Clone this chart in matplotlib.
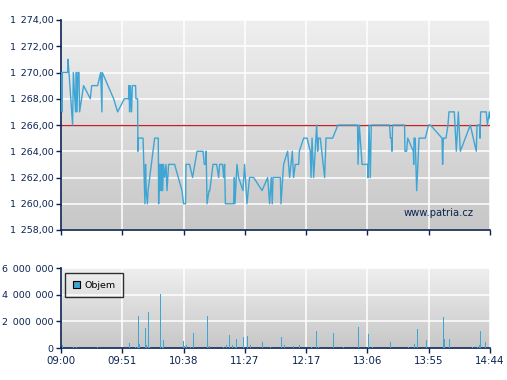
import numpy as np
import matplotlib
matplotlib.use("Agg")
import matplotlib.pyplot as plt
from matplotlib.colors import LinearSegmentedColormap
from matplotlib.ticker import FuncFormatter

# minutes after 09:00 and trade price
price_t = [0.0, 0.9, 1.0, 1.1, 5.3, 5.6, 6.4, 9.3, 9.9, 11.7, 12.3, 12.8, 13.6, 14.4, 14.9,
           18.1, 23.5, 24.6, 29.4, 31.8, 32.8, 33.1, 42.2, 45.4, 50.8, 54.2, 54.5, 55.0,
           55.6, 56.6, 57.2, 59.8, 60.1, 61.4, 61.7, 62.0, 65.8, 67.3, 67.8, 68.3, 69.3,
           69.8, 75.1, 78.0, 78.3, 79.0, 79.4, 80.0, 80.5, 81.0, 81.5, 82.2, 83.1, 84.2,
           85.0, 86.3, 91.1, 97.0, 98.3, 99.9, 100.2, 103.1, 105.5, 109.1, 113.9, 114.9,
           116.0, 116.4, 117.1, 118.7, 119.3, 121.9, 124.8, 126.4, 127.2, 129.6, 130.4,
           131.2, 131.8, 138.4, 139.0, 139.5, 141.1, 142.4, 145.9, 147.2, 149.1, 151.2,
           154.5, 161.2, 165.7, 167.3, 168.6, 169.4, 170.0, 175.9, 176.4, 178.5, 181.7,
           183.3, 185.5, 186.5, 187.9, 190.6, 191.1, 194.6, 197.3, 199.9, 200.5, 201.3,
           202.6, 205.0, 205.8, 206.5, 207.9, 211.4, 212.5, 217.8, 222.1, 237.8, 238.2,
           239.2, 241.4, 245.9, 246.2, 247.0, 248.0, 248.8, 263.5, 264.1, 264.9, 265.4,
           265.9, 275.5, 275.8, 277.1, 278.0, 282.5, 282.8, 283.1, 284.0, 285.2, 287.1,
           292.1, 294.8, 296.2, 305.5, 306.0, 306.6, 308.7, 310.3, 311.1, 315.4, 317.0,
           318.6, 320.2, 328.2, 333.0, 333.6, 335.7, 336.0, 336.5, 341.0, 341.9, 343.5,
           344.0]
price = [1270, 1270, 1267, 1270, 1270, 1271, 1270, 1266, 1270, 1267, 1270, 1267, 1270, 1270, 1267,
         1269, 1268, 1269, 1269, 1270, 1267, 1270, 1268, 1267, 1268, 1268, 1269, 1267,
         1269, 1267, 1269, 1269, 1268, 1268, 1264, 1265, 1265, 1260, 1263, 1261, 1260,
         1261, 1265, 1265, 1260, 1263, 1261, 1263, 1261, 1263, 1261, 1263, 1262, 1263,
         1261, 1263, 1263, 1261, 1260, 1260, 1263, 1263, 1262, 1264, 1264, 1263,
         1263, 1264, 1260, 1261, 1261, 1263, 1263, 1262, 1263, 1263, 1262,
         1263, 1260, 1260, 1262, 1260, 1263, 1262, 1261, 1263, 1260, 1262,
         1262, 1261, 1262, 1260, 1262, 1260, 1262, 1262, 1260, 1263, 1264,
         1262, 1264, 1262, 1263, 1263, 1264, 1265, 1265, 1264, 1262, 1265,
         1262, 1266, 1264, 1265, 1265, 1262, 1265, 1265, 1266, 1266, 1263,
         1266, 1263, 1263, 1262, 1266, 1262, 1266, 1266, 1265, 1265, 1264,
         1266, 1266, 1264, 1264, 1265, 1264, 1263, 1265, 1265, 1261, 1265,
         1265, 1266, 1266, 1265, 1263, 1265, 1265, 1266, 1267, 1267, 1264,
         1267, 1264, 1266, 1264, 1266, 1266, 1265, 1267, 1267, 1266, 1267,
         1266.5]
avg_price = 1266

vol_t = [1.0, 9.3, 11.7, 28.8, 54.5, 59.3, 60.6, 61.4, 62.2, 67.1, 67.9, 69.5, 70.3, 79.1,
         80.7, 81.5, 97.5, 98.6, 99.9, 103.1, 105.5, 116.8, 118.4, 129.6, 132.0, 134.4,
         136.8, 139.2, 140.0, 145.6, 148.9, 151.3, 161.2, 167.6, 176.4, 178.5, 185.7,
         190.8, 200.2, 204.2, 206.1, 217.8, 225.8, 237.9, 245.9, 249.1, 263.5, 278.0,
         282.8, 285.2, 292.4, 306.0, 306.8, 310.8, 329.3, 333.3, 334.9, 335.7, 340.0]
volume = [250e3, 100e3, 100e3, 100e3, 400e3, 100e3, 100e3, 2.43e6, 325e3, 1.53e6, 250e3,
          2.73e6, 100e3, 4.08e6, 100e3, 625e3, 550e3, 150e3, 250e3, 100e3, 1.15e6, 2.43e6,
          150e3, 100e3, 250e3, 1.0e6, 250e3, 100e3, 650e3, 850e3, 925e3, 250e3, 475e3,
          100e3, 825e3, 250e3, 175e3, 250e3, 100e3, 1.3e6, 100e3, 1.15e6, 100e3, 1.6e6,
          1.08e6, 100e3, 475e3, 100e3, 325e3, 1.45e6, 625e3, 2.35e6, 700e3, 700e3, 100e3,
          100e3, 250e3, 1.3e6, 475e3]

time_labels = ["09:00", "09:51", "10:38", "11:27", "12:17", "13:06", "13:55", "14:44"]
session_len = 344

navy = "#0b2352"
blue = "#3fa5d4"
SEP = "\u2002"  # wide thousands separator
plt.rcParams["font.family"] = "DejaVu Sans"
plt.rcParams["font.size"] = 6.8

bg = LinearSegmentedColormap.from_list("bg", ["#efefef", "#c7c7c7"])


def style_axes(ax):
    ax.imshow(np.linspace(0, 1, 256).reshape(-1, 1), extent=[0, 1, 0, 1],
              transform=ax.transAxes, cmap=bg, aspect="auto", zorder=0)
    for side in ("top", "right"):
        ax.spines[side].set_visible(False)
    for side in ("left", "bottom"):
        ax.spines[side].set_color(navy)
        ax.spines[side].set_linewidth(1.2)
    ax.grid(True, color="white", linewidth=1.1)
    ax.tick_params(colors=navy, labelcolor=navy, length=3.5, width=1, pad=2)
    ax.tick_params(axis="x", labelsize=7.4)
    ax.set_xticks(np.linspace(0, session_len, len(time_labels)))
    ax.set_xlim(0, session_len)


fig = plt.figure(figsize=(5.07, 3.80), dpi=100)
fig.patch.set_facecolor("white")

ax = fig.add_axes([61 / 507, 1 - 230 / 380, 429 / 507, 210 / 380])
style_axes(ax)
ax.plot(price_t, price, color=blue, linewidth=1.0, zorder=3)
ax.axhline(avg_price, color="#b8282a", linewidth=1.0, zorder=2)
ax.set_ylim(1258, 1274)
ax.set_yticks(np.arange(1258, 1275, 2))
ax.yaxis.set_major_formatter(FuncFormatter(
    lambda v, p: "{:,.2f}".format(v).replace(",", SEP).replace(".", ",")))
ax.set_xticklabels([])
ax.text(0.961, 0.081, "www.patria.cz", transform=ax.transAxes, ha="right", va="center",
        color=navy, fontsize=7.2)

axv = fig.add_axes([61 / 507, 1 - 348 / 380, 429 / 507, 80 / 380])
style_axes(axv)
axv.vlines(vol_t, 0, volume, color=blue, linewidth=0.72, antialiased=False, zorder=3)
axv.bar([-10], [0], color=blue, label="Objem")  # legend handle only
axv.set_xlim(0, session_len)
axv.set_ylim(0, 6e6)
axv.set_yticks([0, 2e6, 4e6, 6e6])
axv.yaxis.set_major_formatter(FuncFormatter(lambda v, p: "{:,.0f}".format(v).replace(",", SEP)))
axv.set_xticklabels(time_labels)
leg = axv.legend(loc="upper left", bbox_to_anchor=(0.0093, 0.9375), borderaxespad=0,
                 frameon=True, fancybox=False, handlelength=0.75, handleheight=0.75,
                 handletextpad=0.5, borderpad=0.8, fontsize=6.8)
leg.get_frame().set_edgecolor("black")
leg.get_frame().set_facecolor("none")
leg.get_frame().set_linewidth(1.0)
for h in leg.legend_handles:
    h.set_edgecolor("black")
    h.set_linewidth(0.8)
for t in leg.get_texts():
    t.set_color("black")

fig.savefig("out.png", dpi=100)
